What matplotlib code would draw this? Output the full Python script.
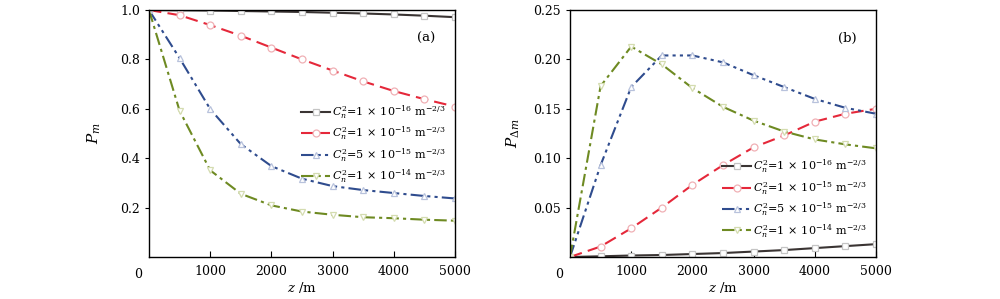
import matplotlib.pyplot as plt
import numpy as np

plt.rcParams['font.family'] = 'DejaVu Serif'
plt.rcParams['mathtext.fontset'] = 'dejavuserif'

z = [0, 500, 1000, 1500, 2000, 2500, 3000, 3500, 4000, 4500, 5000]

labels = [r'$C_n^2$=1$\,\times\,$10$^{-16}$ m$^{-2/3}$',
          r'$C_n^2$=1$\,\times\,$10$^{-15}$ m$^{-2/3}$',
          r'$C_n^2$=5$\,\times\,$10$^{-15}$ m$^{-2/3}$',
          r'$C_n^2$=1$\,\times\,$10$^{-14}$ m$^{-2/3}$']

# (a) P_m
pm_1e16 = [1.0, 0.999, 0.998, 0.996, 0.994, 0.992, 0.989, 0.986, 0.982, 0.977, 0.971]
pm_1e15 = [1.0, 0.979, 0.939, 0.896, 0.848, 0.800, 0.755, 0.711, 0.672, 0.639, 0.609]
pm_5e15 = [1.0, 0.805, 0.599, 0.457, 0.368, 0.317, 0.287, 0.271, 0.259, 0.247, 0.237]
pm_1e14 = [1.0, 0.592, 0.351, 0.256, 0.209, 0.184, 0.171, 0.161, 0.157, 0.151, 0.147]

# (b) P_delta_m
pdm_1e16 = [0.0, 0.0007, 0.0015, 0.002, 0.003, 0.004, 0.0055, 0.007, 0.009, 0.011, 0.013]
pdm_1e15 = [0.0, 0.0106, 0.029, 0.050, 0.073, 0.093, 0.111, 0.123, 0.137, 0.145, 0.150]
pdm_5e15 = [0.0, 0.093, 0.172, 0.204, 0.204, 0.197, 0.184, 0.172, 0.160, 0.151, 0.145]
pdm_1e14 = [0.0, 0.173, 0.213, 0.195, 0.171, 0.152, 0.138, 0.127, 0.119, 0.114, 0.110]

colors = ['#3a3433', '#e5283a', '#2f4c8e', '#6e8a22']
edges = ['#c4c4c4', '#f0b0b5', '#b8c2dc', '#d4dcb0']
markers = ['s', 'o', '^', 'v']
styles = ['-', (0, (6, 3)), (0, (6, 2, 1.5, 2, 1.5, 2)), (0, (6, 2, 1.5, 2))]

fig = plt.figure(figsize=(10, 2.99), dpi=100)
ax1 = fig.add_axes([0.149, 0.1405, 0.306, 0.826])
ax2 = fig.add_axes([0.570, 0.1405, 0.306, 0.826])


def draw(ax, series):
    for i, y in enumerate(series):
        ax.plot(z, y, color=colors[i], linestyle=styles[i], lw=1.5,
                marker=markers[i], markersize=5, markerfacecolor='white',
                markeredgecolor=edges[i], markeredgewidth=0.9, label=labels[i])
    ax.set_xlim(0, 5000)
    ax.set_xticks([1000, 2000, 3000, 4000, 5000])
    ax.tick_params(axis='x', direction='in', length=4, labelsize=9, pad=6)
    ax.tick_params(axis='y', direction='out', length=3, labelsize=9)
    ax.set_xlabel(r'$z$ /m', fontsize=9.5, labelpad=1)
    ax.text(-0.035, -0.045, '0', transform=ax.transAxes, fontsize=9,
            ha='center', va='top')
    for s in ax.spines.values():
        s.set_linewidth(1.0)


draw(ax1, [pm_1e16, pm_1e15, pm_5e15, pm_1e14])
ax1.set_ylim(0, 1.0)
ax1.set_yticks([0.2, 0.4, 0.6, 0.8, 1.0])
ax1.set_ylabel(r'$P_m$', fontsize=11, labelpad=12)
ax1.text(0.905, 0.87, '(a)', transform=ax1.transAxes, fontsize=9.5, ha='center')
ax1.legend(loc='upper right', bbox_to_anchor=(0.985, 0.64), frameon=False,
           fontsize=8, handlelength=2.6, handletextpad=0.2, labelspacing=0.35,
           borderaxespad=0)

draw(ax2, [pdm_1e16, pdm_1e15, pdm_5e15, pdm_1e14])
ax2.set_ylim(0, 0.25)
ax2.set_yticks([0.05, 0.10, 0.15, 0.20, 0.25])
ax2.set_yticklabels(['0.05', '0.10', '0.15', '0.20', '0.25'])
ax2.set_ylabel(r'$P_{\Delta m}$', fontsize=11, labelpad=8)
ax2.text(0.905, 0.87, '(b)', transform=ax2.transAxes, fontsize=9.5, ha='center')
ax2.legend(loc='upper right', bbox_to_anchor=(0.985, 0.42), frameon=False,
           fontsize=8, handlelength=2.6, handletextpad=0.2, labelspacing=0.35,
           borderaxespad=0)

fig.savefig('out.png', dpi=100)
